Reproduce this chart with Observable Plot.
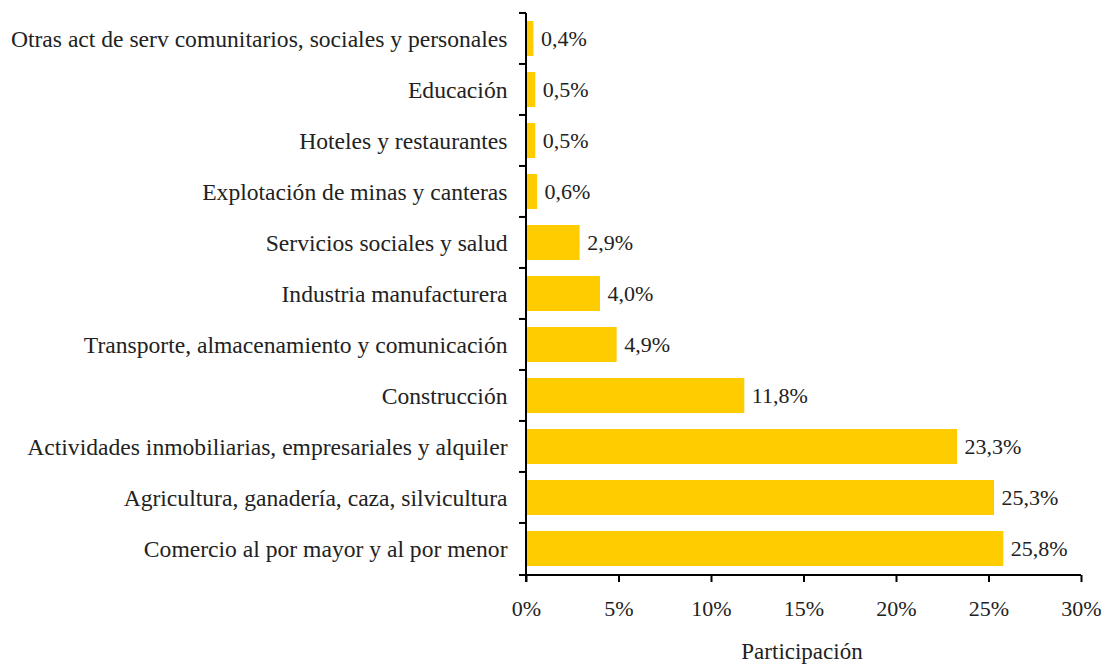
<!DOCTYPE html>
<html><head><meta charset="utf-8">
<script src="https://cdn.jsdelivr.net/npm/d3@7"></script>
<script src="https://cdn.jsdelivr.net/npm/@observablehq/plot@0.6"></script>
<style>
body{margin:0;background:#fff;}
svg{font-family:"Liberation Serif",serif;}
</style>
</head><body><div id="chart"></div>
<script>
const categories = [
  "Otras act de serv comunitarios, sociales y personales",
  "Educación",
  "Hoteles y restaurantes",
  "Explotación de minas y canteras",
  "Servicios sociales y salud",
  "Industria manufacturera",
  "Transporte, almacenamiento y comunicación",
  "Construcción",
  "Actividades inmobiliarias, empresariales y alquiler",
  "Agricultura, ganadería, caza, silvicultura",
  "Comercio al por mayor y al por menor"
];
const values = [0.4, 0.5, 0.5, 0.6, 2.9, 4.0, 4.9, 11.8, 23.3, 25.3, 25.8];
const xTicks = [0, 5, 10, 15, 20, 25, 30];
const xLabel = "Participación";

const data = categories.map((c, i) => ({cat: c, v: values[i]}));
const fmt = v => v.toFixed(1).replace(".", ",") + "%";

const axisLines = (index, scales, values, dim) => {
  const g = d3.create("svg:g").attr("stroke", "#000").attr("stroke-width", 2);
  const x0 = dim.marginLeft, yTop = dim.marginTop, yBot = dim.height - dim.marginBottom;
  const bw = scales.y.bandwidth ? scales.y.bandwidth() : 0;
  const step = (yBot - yTop) / categories.length;
  categories.forEach(c => {
    const y = scales.y(c) - (step - bw) / 2;
    g.append("line").attr("x1", x0 - 7).attr("x2", x0).attr("y1", y).attr("y2", y);
  });
  g.append("line").attr("x1", x0).attr("x2", x0).attr("y1", yTop).attr("y2", yBot + 7);
  g.append("line").attr("x1", x0 - 7).attr("x2", dim.width - dim.marginRight).attr("y1", yBot).attr("y2", yBot);
  return g.node();
};

const chart = Plot.plot({
  width: 1105,
  height: 667,
  marginLeft: 526,
  marginRight: 24,
  marginTop: 13,
  marginBottom: 92,
  style: {fontFamily: "Liberation Serif, serif", fontSize: "22px", color: "#222"},
  x: {domain: [0, 30]},
  y: {domain: categories, paddingInner: 0.31, paddingOuter: 0.155, align: 0.5},
  marks: [
    Plot.barX(data, {x: "v", y: "cat", fill: "#FFCC00", insetLeft: 1}),
    Plot.text(data, {x: "v", y: "cat", text: d => fmt(d.v), dx: 7, textAnchor: "start", fill: "#222", fontSize: 22}),
    Plot.axisY({tickSize: 0, tickPadding: 19, fontSize: 23.6, fill: "#222", label: null}),
    Plot.axisX({ticks: xTicks, tickFormat: d => d + "%", tickSize: 7, tickPadding: 18, fontSize: 22, fill: "#222", stroke: "#000", strokeWidth: 2, label: null}),
    Plot.text([xLabel], {frameAnchor: "bottom", dx: -2, dy: 83, text: d => d, fontSize: 23, fill: "#222"}),
    axisLines
  ]
});
document.getElementById("chart").appendChild(chart);
</script>
</body></html>
